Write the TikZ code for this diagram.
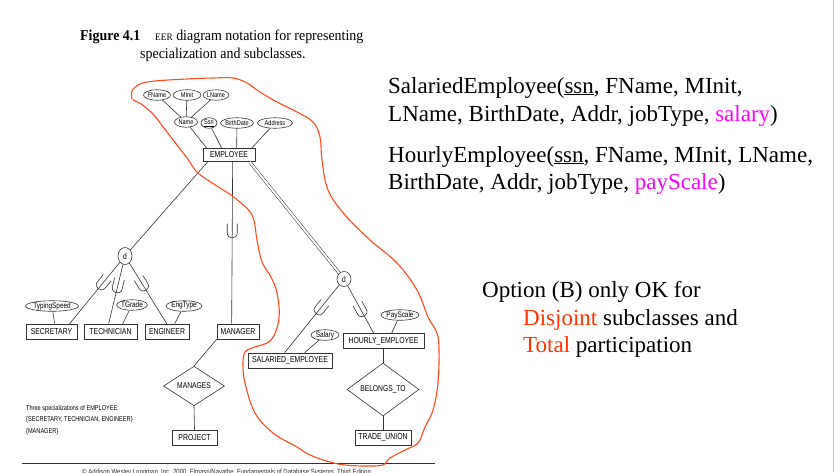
\documentclass[tikz,border=0pt]{standalone}
\usepackage{fontspec}
\setmainfont{Liberation Serif}
\newfontfamily\dfont[FakeStretch=0.8]{Liberation Sans}
\newfontfamily\tfont[FakeStretch=0.93]{Liberation Serif}
\usetikzlibrary{shapes.geometric}

\definecolor{ink}{HTML}{333333}
\definecolor{penred}{HTML}{FF4A1C}
\definecolor{hl}{HTML}{FF00FF}
\definecolor{optred}{HTML}{FF3300}

\tikzset{
  ent/.style={draw=ink, line width=0.7pt, rectangle, inner sep=0pt, text=black,
    font=\dfont\fontsize{8.6}{9}\selectfont},
  attr/.style={draw=ink, line width=0.6pt, ellipse, inner sep=0pt, text=black,
    minimum height=10.5pt, font=\dfont\fontsize{7}{7}\selectfont},
  attrb/.style={attr, font=\dfont\fontsize{8}{8}\selectfont},
  rel/.style={draw=ink, line width=0.6pt, diamond, inner sep=0pt, text=black,
    font=\dfont\fontsize{8.4}{9}\selectfont},
  dcirc/.style={draw=ink, line width=0.6pt, ellipse, inner sep=0pt, text=black,
    minimum width=14pt, font=\dfont\fontsize{8.4}{9}\selectfont},
  link/.style={draw=ink, line width=0.6pt},
  onpath/.style={pos=#1, sloped, allow upside down},
  cup/.pic={\draw[ink, line width=0.6pt] (9.5,-5) -- (0,-5)
      .. controls (-6.5,-5) and (-6.5,5) .. (0,5) -- (9.5,5);},
  big/.style={anchor=base west, inner sep=0pt, font=\fontsize{23}{28}\selectfont}
}

\begin{document}
\begin{tikzpicture}[x=1pt, y=-1pt]
\useasboundingbox (0,0) rectangle (834,472);
\fill[white] (0,0) rectangle (834,472);
\draw[gray!45, line width=0.8pt] (833,0) -- (833,472);

% caption of the figure
\node[anchor=base west, inner sep=0pt, font=\tfont\fontsize{15}{17}\selectfont\bfseries] (figno) at (80,40) {Figure 4.1};
\node[anchor=base west, inner sep=0pt, font=\tfont\fontsize{15}{17}\selectfont] (cap1) at (155,40) {{\fontsize{10}{11}\selectfont EER} diagram notation for representing};
\node[anchor=base west, inner sep=0pt, font=\tfont\fontsize{15}{17}\selectfont] (cap2) at (140,58) {specialization and subclasses.};

% superclass and its attributes
\node[ent, minimum width=52pt, minimum height=13pt] (emp) at (229,155) {EMPLOYEE};
\node[attr, minimum width=27pt] (fname) at (157,95) {FName};
\node[attr, minimum width=28pt] (minit) at (187,95) {MInit};
\node[attr, minimum width=26pt] (lname) at (216,95) {LName};
\node[attr, minimum width=23pt] (name) at (186,122) {Name};
\node[attr, minimum width=16pt] (ssn) at (209,123) {\underline{Ssn}};
\node[attr, minimum width=33pt] (bdate) at (237,123) {BirthDate};
\node[attr, minimum width=35pt] (addr) at (275,123) {Address};

\draw[link] (fname) -- (name);
\draw[link] (minit) -- (name);
\draw[link] (lname) -- (name);
\draw[link] (name) -- ([xshift=4pt]emp.north west);
\draw[link] (ssn) -- ([xshift=19pt]emp.north west);
\draw[link] (bdate) -- ([xshift=34pt]emp.north west);
\draw[link] (addr) -- ([xshift=49pt]emp.north west);

% first specialization {SECRETARY, TECHNICIAN, ENGINEER}
\node[dcirc, minimum height=17pt] (d1) at (125,256) {d};
\node[ent, minimum width=51pt, minimum height=15pt] (sec) at (51.5,331.5) {SECRETARY};
\node[ent, minimum width=53pt, minimum height=15pt] (tech) at (110.5,331.5) {TECHNICIAN};
\node[ent, minimum width=44pt, minimum height=15pt] (eng) at (167,331.5) {ENGINEER};
\node[attrb, minimum width=49pt] (tspeed) at (52,306) {TypingSpeed};
\node[attrb, minimum width=27pt] (tgrade) at (132,305) {TGrade};
\node[attrb, minimum width=36pt] (etype) at (184,306) {EngType};

\draw[link] (d1) -- ([xshift=5pt]emp.south west);
\draw[link] ([xshift=44pt]sec.north west) -- (d1) pic[onpath=0.63] {cup};
\draw[link] ([xshift=25pt]tech.north west) -- (d1) pic[onpath=0.6] {cup};
\draw[link] ([xshift=22pt]eng.north west) -- (d1) pic[onpath=0.62] {cup};
\draw[link] (tspeed) -- ([xshift=29pt]sec.north west);
\draw[link] (tgrade) -- ([xshift=39pt]tech.north west);
\draw[link] (etype) -- ([xshift=30pt]eng.north west);

% second specialization {MANAGER}
\node[ent, minimum width=42pt, minimum height=15pt] (mgr) at (238,331.5) {MANAGER};
\node[rel, minimum width=61pt, minimum height=35pt] (manages) at (194,386) {MANAGES};
\node[ent, minimum width=45pt, minimum height=15pt] (proj) at (194.5,437.5) {PROJECT};
\draw[link] ([xshift=15pt]mgr.north west) -- ([xshift=30pt]emp.south west) pic[onpath=0.56] {cup};
\draw[link] (manages.north) -- (mgr.south west);
\draw[link] (manages.south) -- (proj.north);

% third specialization {SALARIED_EMPLOYEE, HOURLY_EMPLOYEE}
\node[dcirc, minimum height=15pt] (d2) at (344,279) {d};
\node[ent, minimum width=84pt, minimum height=15pt] (sal) at (290,360.5) {SALARIED\_EMPLOYEE};
\node[ent, minimum width=81pt, minimum height=15pt] (hourly) at (383.5,341) {HOURLY\_EMPLOYEE};
\node[attrb, minimum width=28pt] (salary) at (325,335) {Salary};
\node[attrb, minimum width=36pt] (pscale) at (400,315) {PayScale};
\node[rel, minimum width=72pt, minimum height=45pt] (belongs) at (383,389.5) {BELONGS\_TO};
\node[ent, minimum width=56pt, minimum height=15pt] (union) at (383,437.5) {TRADE\_UNION};

\draw[draw=ink, line width=0.5pt, double=white, double distance=2pt] (d2) -- ([xshift=47pt]emp.south west);
\draw[link] ([xshift=37pt]sal.north west) -- (d2) pic[onpath=0.63] {cup};
\draw[link] ([xshift=31pt]hourly.north west) -- (d2) pic[onpath=0.45] {cup};
\draw[link] (salary) -- ([xshift=57pt]sal.north west);
\draw[link] (pscale) -- ([xshift=49pt]hourly.north west);
\draw[link] (hourly.south -| belongs.north) -- (belongs.north);
\draw[link] (belongs.south) -- (union.north);

% legend of the figure
\node[anchor=north west, inner sep=0pt, align=left, text=black,
  font=\dfont\fontsize{7}{11.7}\selectfont] (legend) at (26,405)
  {Three specializations of EMPLOYEE:\\ \{SECRETARY, TECHNICIAN, ENGINEER\}\\ \{MANAGER\}};

\draw[ink, line width=0.8pt] (22,463) -- (435,463);
\node[anchor=north west, inner sep=0pt, text=ink, font=\dfont\fontsize{7.5}{8}\selectfont] (copy) at (82,468.5)
  {\textcopyright\ Addison Wesley Longman, Inc. 2000, Elmasri/Navathe, Fundamentals of Database Systems, Third Edition};

% hand-drawn loop around the option (B) part
\draw[penred, line width=1.1pt, line cap=round, line join=round] plot[smooth, tension=0.6] coordinates {
  (132,99) (132,91) (140,84) (155,81) (187,79) (213,78) (233,78) (247,83) (260,92)
  (277,102) (297,112) (313,122) (320,137) (322,160) (328,190) (345,215) (370,240)
  (397,263) (417,290) (428,317) (437,333) (439,350) (438,383) (433,410) (425,427)
  (418,443) (405,450) (390,458) (383,465) (365,466) (345,465) (330,462) (310,455)
  (297,447) (273,433) (255,413) (245,383) (243,363) (245,352) (252,348) (271,340)
  (279,318) (277,293) (271,277) (262,262) (257,240) (252,215) (235,198) (220,188)
  (198,173) (187,158) (167,132) (153,114) (141,104) (133,100)};

% relational schemas
\node[big] (r1) at (388,93) {SalariedEmployee(\underline{ssn}, FName, MInit,};
\node[big] (r2) at (388,121) {LName, BirthDate, Addr, jobType, \textcolor{hl}{salary})};
\node[big] (r3) at (388,162) {HourlyEmployee(\underline{ssn}, FName, MInit, LName,};
\node[big] (r4) at (388,189) {BirthDate, Addr, jobType, \textcolor{hl}{payScale})};

% note on option (B)
\node[big] (o1) at (482,297) {Option (B) only OK for};
\node[big] (o2) at (523,325) {\textcolor{optred}{Disjoint} subclasses and};
\node[big] (o3) at (523,352) {\textcolor{optred}{Total} participation};
\end{tikzpicture}
\end{document}
